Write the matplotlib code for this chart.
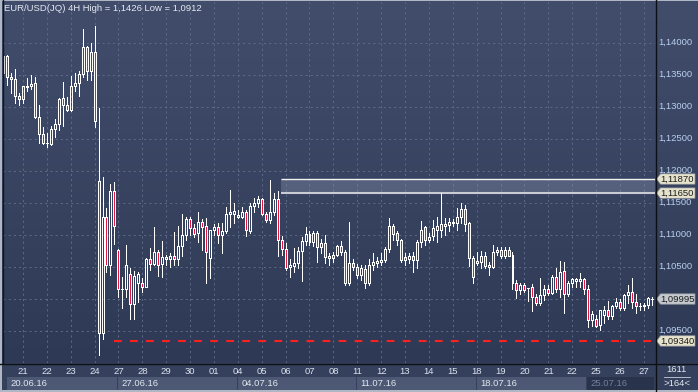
import numpy as np
import matplotlib.pyplot as plt
from matplotlib.patches import Rectangle, Polygon
from matplotlib.colors import LinearSegmentedColormap
from matplotlib.transforms import blended_transform_factory

plt.rcParams['font.family'] = ['Liberation Sans', 'DejaVu Sans']

# EUR/USD 4H candles, 20.06.16 - 27.07.16
opens = [1.1352, 1.1379, 1.1347, 1.1343, 1.1316, 1.1312, 1.1331, 1.1333, 1.1337, 1.1284,
         1.1258, 1.1243, 1.1242, 1.1265, 1.1273, 1.1313, 1.1303, 1.1295, 1.1332, 1.1337,
         1.1351, 1.1393, 1.1355, 1.1385, 1.1184, 1.0947, 1.1128, 1.1052, 1.1168, 1.1076,
         1.1015, 1.1015, 1.1038, 1.0991, 1.1024, 1.1024, 1.1019, 1.1062, 1.1054, 1.1073,
         1.1054, 1.1062, 1.1062, 1.1067, 1.1062, 1.1082, 1.1100, 1.1125, 1.1110, 1.1102,
         1.1120, 1.1113, 1.1063, 1.1107, 1.1112, 1.1100, 1.1105, 1.1132, 1.1133, 1.1128,
         1.1128, 1.1135, 1.1106, 1.1145, 1.1149, 1.1155, 1.1133, 1.1123, 1.1136, 1.1155,
         1.1092, 1.1077, 1.1050, 1.1051, 1.1056, 1.1075, 1.1090, 1.1101, 1.1089, 1.1102,
         1.1081, 1.1087, 1.1063, 1.1063, 1.1068, 1.1082, 1.1073, 1.1024, 1.1055, 1.1050,
         1.1037, 1.1046, 1.1024, 1.1053, 1.1056, 1.1058, 1.1060, 1.1077, 1.1113, 1.1102,
         1.1092, 1.1060, 1.1062, 1.1067, 1.1060, 1.1089, 1.1112, 1.1091, 1.1098, 1.1108,
         1.1108, 1.1113, 1.1115, 1.1118, 1.1119, 1.1128, 1.1140, 1.1118, 1.1063, 1.1056,
         1.1058, 1.1067, 1.1050, 1.1050, 1.1073, 1.1076, 1.1067, 1.1076, 1.1068, 1.1025,
         1.1014, 1.1021, 1.1016, 1.1018, 1.1003, 1.0994, 1.1006, 1.1015, 1.1009, 1.1034,
         1.1015, 1.1044, 1.1007, 1.1025, 1.1028, 1.1028, 1.1030, 1.1015, 1.0966, 1.0969,
         1.0959, 1.0975, 1.0982, 1.0973, 1.0988, 1.0995, 1.0985, 1.1006, 1.1011, 1.0995,
         1.0989, 1.0988, 1.0990, 1.1000]
highs = [1.1382, 1.1380, 1.1353, 1.1359, 1.1322, 1.1333, 1.1345, 1.1350, 1.1346, 1.1302,
         1.1268, 1.1259, 1.1270, 1.1280, 1.1313, 1.1339, 1.1315, 1.1348, 1.1352, 1.1356,
         1.1421, 1.1395, 1.1400, 1.1426, 1.1298, 1.1190, 1.1142, 1.1179, 1.1182, 1.1078,
         1.1034, 1.1084, 1.1048, 1.1043, 1.1042, 1.1032, 1.1064, 1.1079, 1.1112, 1.1076,
         1.1090, 1.1068, 1.1071, 1.1104, 1.1114, 1.1132, 1.1128, 1.1127, 1.1117, 1.1135,
         1.1124, 1.1126, 1.1108, 1.1117, 1.1118, 1.1119, 1.1144, 1.1170, 1.1149, 1.1139,
         1.1144, 1.1139, 1.1149, 1.1157, 1.1161, 1.1158, 1.1136, 1.1185, 1.1165, 1.1169,
         1.1098, 1.1087, 1.1062, 1.1079, 1.1080, 1.1097, 1.1112, 1.1106, 1.1106, 1.1105,
         1.1094, 1.1099, 1.1071, 1.1073, 1.1084, 1.1090, 1.1076, 1.1120, 1.1062, 1.1054,
         1.1053, 1.1053, 1.1062, 1.1071, 1.1065, 1.1071, 1.1081, 1.1126, 1.1117, 1.1106,
         1.1094, 1.1071, 1.1071, 1.1073, 1.1091, 1.1122, 1.1114, 1.1102, 1.1123, 1.1128,
         1.1165, 1.1126, 1.1126, 1.1124, 1.1141, 1.1150, 1.1146, 1.1120, 1.1066, 1.1073,
         1.1075, 1.1073, 1.1058, 1.1084, 1.1081, 1.1081, 1.1080, 1.1080, 1.1073, 1.1029,
         1.1024, 1.1024, 1.1017, 1.1023, 1.1008, 1.1032, 1.1021, 1.1021, 1.1037, 1.1048,
         1.1059, 1.1058, 1.1028, 1.1033, 1.1033, 1.1040, 1.1032, 1.1021, 1.0980, 1.0975,
         1.0983, 1.0988, 1.0997, 1.0990, 1.1001, 1.0999, 1.1007, 1.1021, 1.1032, 1.1007,
         1.0994, 1.0994, 1.1002, 1.1002]
lows = [1.1350, 1.1334, 1.1322, 1.1306, 1.1303, 1.1306, 1.1325, 1.1328, 1.1282, 1.1244,
        1.1242, 1.1237, 1.1240, 1.1252, 1.1264, 1.1270, 1.1293, 1.1294, 1.1325, 1.1316,
        1.1347, 1.1341, 1.1341, 1.1269, 1.0912, 1.0937, 1.1041, 1.1037, 1.1086, 1.1003,
        1.0985, 1.1003, 1.0969, 1.0969, 1.0995, 1.1011, 1.1018, 1.1045, 1.1053, 1.1035,
        1.1034, 1.1053, 1.1049, 1.1052, 1.1053, 1.1067, 1.1092, 1.1100, 1.1097, 1.1089,
        1.1076, 1.1024, 1.1033, 1.1100, 1.1087, 1.1071, 1.1102, 1.1112, 1.1118, 1.1126,
        1.1126, 1.1098, 1.1102, 1.1136, 1.1144, 1.1131, 1.1120, 1.1118, 1.1131, 1.1066,
        1.1068, 1.1045, 1.1034, 1.1042, 1.1048, 1.1028, 1.1084, 1.1084, 1.1082, 1.1058,
        1.1071, 1.1055, 1.1053, 1.1058, 1.1066, 1.1068, 1.1021, 1.1021, 1.1045, 1.1032,
        1.1029, 1.1016, 1.1021, 1.1045, 1.1050, 1.1053, 1.1058, 1.1073, 1.1092, 1.1084,
        1.1058, 1.1053, 1.1055, 1.1042, 1.1048, 1.1081, 1.1084, 1.1088, 1.1092, 1.1089,
        1.1097, 1.1100, 1.1105, 1.1113, 1.1108, 1.1118, 1.1106, 1.1051, 1.1024, 1.1053,
        1.1048, 1.1048, 1.1037, 1.1048, 1.1068, 1.1063, 1.1063, 1.1066, 1.1015, 1.1001,
        1.1007, 1.1011, 1.0997, 1.0981, 1.0990, 1.0990, 1.0998, 1.1006, 1.1007, 1.1011,
        1.1003, 1.0978, 1.1004, 1.1018, 1.1019, 1.1019, 1.1008, 1.0955, 1.0957, 1.0955,
        1.0951, 1.0962, 1.0969, 1.0969, 1.0985, 1.0983, 1.0983, 1.0993, 1.0985, 1.0977,
        1.0983, 1.0982, 1.0985, 1.0990]
closes = [1.1379, 1.1346, 1.1343, 1.1316, 1.1312, 1.1332, 1.1333, 1.1335, 1.1284, 1.1258,
          1.1243, 1.1244, 1.1265, 1.1273, 1.1312, 1.1303, 1.1295, 1.1332, 1.1337, 1.1351,
          1.1393, 1.1355, 1.1385, 1.1277, 1.0946, 1.1128, 1.1052, 1.1168, 1.1113, 1.1015,
          1.1015, 1.1052, 1.0991, 1.1036, 1.1038, 1.1019, 1.1062, 1.1054, 1.1073, 1.1052,
          1.1065, 1.1065, 1.1067, 1.1062, 1.1082, 1.1100, 1.1125, 1.1110, 1.1101, 1.1120,
          1.1112, 1.1073, 1.1107, 1.1112, 1.1100, 1.1105, 1.1132, 1.1135, 1.1137, 1.1131,
          1.1135, 1.1108, 1.1145, 1.1149, 1.1155, 1.1133, 1.1123, 1.1136, 1.1155, 1.1092,
          1.1077, 1.1048, 1.1053, 1.1056, 1.1075, 1.1090, 1.1101, 1.1089, 1.1102, 1.1081,
          1.1087, 1.1065, 1.1066, 1.1068, 1.1082, 1.1073, 1.1024, 1.1055, 1.1050, 1.1037,
          1.1048, 1.1024, 1.1053, 1.1058, 1.1059, 1.1060, 1.1077, 1.1113, 1.1101, 1.1092,
          1.1060, 1.1065, 1.1067, 1.1060, 1.1089, 1.1108, 1.1091, 1.1097, 1.1110, 1.1113,
          1.1117, 1.1117, 1.1120, 1.1120, 1.1128, 1.1140, 1.1117, 1.1063, 1.1034, 1.1059,
          1.1067, 1.1051, 1.1053, 1.1073, 1.1076, 1.1067, 1.1076, 1.1067, 1.1025, 1.1014,
          1.1021, 1.1014, 1.1016, 1.1003, 1.0994, 1.1006, 1.1015, 1.1009, 1.1034, 1.1015,
          1.1042, 1.1007, 1.1025, 1.1030, 1.1030, 1.1030, 1.1015, 1.0966, 1.0976, 1.0957,
          1.0982, 1.0982, 1.0973, 1.0989, 1.0995, 1.0985, 1.1006, 1.1011, 1.0995, 1.0988,
          1.0989, 1.0990, 1.1001, 1.09995]

day_labels = ['21', '22', '23', '24', '27', '28', '29', '30', '01', '04', '05', '06', '07', '08',
              '11', '12', '13', '14', '15', '18', '19', '20', '21', '22', '25', '26', '27']
first_day_bar = 5          # bar index where day "21" starts
bars_per_day = 6
week_labels = ['20.06.16', '27.06.16', '04.07.16', '11.07.16', '18.07.16', '25.07.16']

# 1,10000 is hidden behind the last-price tag, so it is not listed
price_ticks = [1.140, 1.135, 1.130, 1.125, 1.120, 1.115, 1.110, 1.105, 1.095]
grid_prices = [1.140, 1.135, 1.130, 1.125, 1.120, 1.115, 1.110, 1.105, 1.100, 1.095]
zone_top, zone_bottom = 1.1187, 1.1165
support = 1.0934
zone_start_bar = 69.8
support_start_bar = 27.9

W, H = 698, 392
fig = plt.figure(figsize=(W / 100, H / 100), dpi=100)

# background (pixel coordinates)
bg = fig.add_axes([0, 0, 1, 1], zorder=0)
cmap = LinearSegmentedColormap.from_list('bg', ['#414d6b', '#2e3a55'])
bg.imshow(np.linspace(0, 1, 256).reshape(-1, 1), cmap=cmap, extent=[0, W, 363, 0], aspect='auto')
bg.add_patch(Rectangle((0, 363), W, H - 363, color='#34405c'))
bg.set_xlim(0, W)
bg.set_ylim(H, 0)
bg.axis('off')

ymin, ymax = 1.089953, 1.146359
xmax = 163.8

ax = fig.add_axes([3 / W, 29 / H, 652 / W, 361 / H], zorder=1)
ax.set_facecolor('none')
ax.set_xlim(0, xmax)
ax.set_ylim(ymin, ymax)
ax.axis('off')

# grid
grid_kw = dict(colors='#5b6886', linewidth=0.75, linestyles=(0, (2.0, 3.0)), zorder=1)
ax.hlines(grid_prices, 0, xmax, **grid_kw)
day_x = [first_day_bar + bars_per_day * k for k in range(len(day_labels))]
ax.vlines(day_x, ymin, ymax, **grid_kw)

# resistance zone and support line
ax.add_patch(Rectangle((zone_start_bar, zone_bottom), xmax - zone_start_bar, zone_top - zone_bottom,
                       facecolor='#9aa6c0', alpha=0.3, edgecolor='none', zorder=2))
ax.hlines(zone_top, zone_start_bar, xmax, colors='#f2f2f2', linewidth=1.0, zorder=3)
ax.hlines(zone_bottom, zone_start_bar, xmax, colors='#c9ccd4', linewidth=1.5, zorder=3)
ax.hlines(support, support_start_bar, xmax, colors='#ff1f1f', linewidth=1.5,
          linestyles=(0, (3.7, 4.0)), zorder=3)

# candles: 1 px white wicks and outlines, red fill for falling bars
bw = 0.5
lw = 0.72
for i, (o, h, l, c) in enumerate(zip(opens, highs, lows, closes)):
    top, bot = max(o, c), min(o, c)
    ax.vlines(i, top, h, colors='white', linewidth=lw, zorder=4, antialiased=False)
    ax.vlines(i, l, bot, colors='white', linewidth=lw, zorder=4, antialiased=False)
    fc = '#e6173f' if c < o else 'none'
    ax.add_patch(Rectangle((i - bw / 2, bot), bw, top - bot, facecolor=fc,
                           edgecolor='white', linewidth=lw, zorder=5, antialiased=False))

# right price axis
rax = fig.add_axes([655 / W, 29 / H, 43 / W, 361 / H], zorder=2)
rax.set_facecolor('none')
rax.set_xlim(0, 43)
rax.set_ylim(ymin, ymax)
rax.axis('off')
for p in price_ticks:
    rax.text(3.5, p, f'{p:.5f}'.replace('.', ','), color='#b9d0f0', fontsize=6.8,
             va='center', ha='left', zorder=1)

half = 5.2 * (ymax - ymin) / 361
tags = [(zone_top, '#e6e3cc'), (zone_bottom, '#e6e3cc'), (closes[-1], '#c5c9cf'), (support, '#e6e3cc')]
for p, col in tags:
    rax.add_patch(Polygon([(1.5, p), (5.5, p + half), (40, p + half), (40, p - half), (5.5, p - half)],
                          closed=True, facecolor=col, edgecolor='#8a8f99', linewidth=0.5, zorder=3))
    rax.text(5.6, p, f'{p:.5f}'.replace('.', ','), color='#1c1c1c', fontsize=6.8,
             va='center', ha='left', zorder=4)

# day labels under the chart
trans = blended_transform_factory(ax.transData, fig.transFigure)
for x, lab in zip(day_x, day_labels):
    ax.text(x, 1 - 372 / H, lab, transform=trans, ha='center', va='center',
            color='#dce3ee', fontsize=6.8, clip_on=False)

# overlay: frame, week boxes, title
ov = fig.add_axes([0, 0, 1, 1], zorder=3)
ov.set_facecolor('none')
ov.set_xlim(0, W)
ov.set_ylim(H, 0)
ov.axis('off')

week_edges = [6.7, 118.3, 237.7, 357.0, 477.0, 587.0, 655.0]
for k, lab in enumerate(week_labels):
    x0, x1 = week_edges[k], week_edges[k + 1] - 1
    last = k == len(week_labels) - 1
    ov.add_patch(Rectangle((x0, 377), x1 - x0, 13, facecolor='#29334c' if last else '#4c5874',
                           edgecolor='none'))
    ov.text(x0 + 3.5, 383.5, lab, color='#71809c' if last else '#e2e8f0', fontsize=6.8,
            ha='left', va='center')

ov.plot([2.5, 2.5], [0, 363], color='#12161e', linewidth=1)
ov.plot([655.5, 655.5], [0, H], color='#0c0f14', linewidth=1)
ov.plot([0, W], [363.5, 363.5], color='#0c0f14', linewidth=1)
ov.add_patch(Rectangle((0, 0), 2, H, facecolor='#aeb7c3', edgecolor='none'))
ov.add_patch(Rectangle((0, 0), W, 1, facecolor='#aeb7c3', edgecolor='none'))
ov.add_patch(Rectangle((0, 390), W, 2, facecolor='#aeb7c3', edgecolor='none'))

ov.text(676.5, 370, '1611', color='#e2e8f0', fontsize=6.8, ha='center', va='center')
ov.plot([664, 690], [377, 377], color='#c8d0dc', linewidth=0.6)
ov.text(676.5, 383.5, '>164<', color='#e2e8f0', fontsize=6.8, ha='center', va='center')

title = 'EUR/USD(JQ) 4H High = {} Low = {}'.format(f'{max(highs):.4f}'.replace('.', ','),
                                                   f'{min(lows):.4f}'.replace('.', ','))
ov.text(4, 8.5, title, color='#e4eaf2', fontsize=6.8, ha='left', va='center')

fig.savefig('out.png', dpi=100)
